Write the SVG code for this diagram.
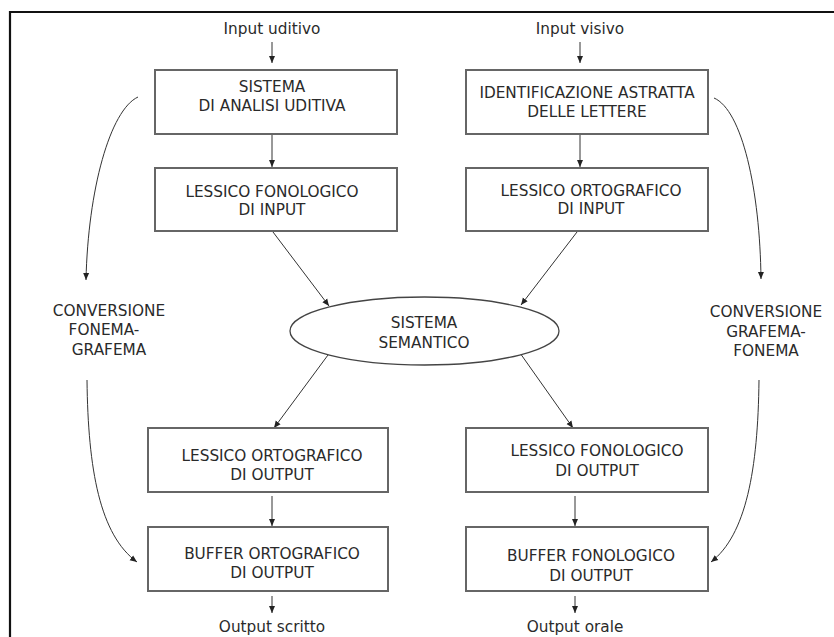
<svg xmlns="http://www.w3.org/2000/svg" width="834" height="637" viewBox="0 0 834 637">
<defs>
<style>
text{font-family:"DejaVu Sans","Verdana",sans-serif;font-size:15.3px;fill:#2a2a2a;text-anchor:middle}
.box{fill:#fff;stroke:#666;stroke-width:2}
.ell{fill:#fff;stroke:#444;stroke-width:1.3}
.c{fill:none;stroke:#333;stroke-width:1}
</style>
<marker id="ah" markerUnits="userSpaceOnUse" markerWidth="8" markerHeight="8" refX="7" refY="3" orient="auto" viewBox="0 0 8 6">
<path d="M0,0 L7,3 L0,6 z" fill="#222"/>
</marker>
</defs>
<rect width="834" height="637" fill="#fff"/>
<path d="M10,640 V12 H840" fill="none" stroke="#111" stroke-width="2.2"/>

<g id="connectors">
<path class="c" d="M272,42 V63" marker-end="url(#ah)"/>
<path class="c" d="M580,42 V63" marker-end="url(#ah)"/>
<path class="c" d="M272,135 V167" marker-end="url(#ah)"/>
<path class="c" d="M580,135 V167" marker-end="url(#ah)"/>
<path class="c" d="M273,232 L329,306" marker-end="url(#ah)"/>
<path class="c" d="M577,232 L521,305" marker-end="url(#ah)"/>
<path class="c" d="M328,355 L274,428" marker-end="url(#ah)"/>
<path class="c" d="M520,353 L573,428" marker-end="url(#ah)"/>
<path class="c" d="M272,496 V526" marker-end="url(#ah)"/>
<path class="c" d="M575,496 V526" marker-end="url(#ah)"/>
<path class="c" d="M272,596 V613" marker-end="url(#ah)"/>
<path class="c" d="M575,596 V613" marker-end="url(#ah)"/>
<path class="c" d="M138,97 C110,110 88,190 86,280" marker-end="url(#ah)"/>
<path class="c" d="M87,380 C88,470 100,535 137,562" marker-end="url(#ah)"/>
<path class="c" d="M714,98 C742,110 760,190 761,279" marker-end="url(#ah)"/>
<path class="c" d="M759,380 C758,470 746,535 711,562" marker-end="url(#ah)"/>
</g>

<g id="input-uditivo"><text x="272" y="34">Input uditivo</text></g>
<g id="input-visivo"><text x="580" y="34">Input visivo</text></g>

<g id="sistema-analisi-uditiva">
<rect class="box" x="155" y="70" width="242" height="64"/>
<text x="272" y="92">SISTEMA</text>
<text x="272" y="111">DI ANALISI UDITIVA</text>
</g>
<g id="identificazione-lettere">
<rect class="box" x="466" y="70" width="242" height="64"/>
<text x="587" y="98">IDENTIFICAZIONE ASTRATTA</text>
<text x="587" y="117">DELLE LETTERE</text>
</g>
<g id="lessico-fonologico-input">
<rect class="box" x="155" y="168" width="242" height="63"/>
<text x="272" y="197">LESSICO FONOLOGICO</text>
<text x="272" y="215">DI INPUT</text>
</g>
<g id="lessico-ortografico-input">
<rect class="box" x="466" y="168" width="242" height="63"/>
<text x="591" y="196">LESSICO ORTOGRAFICO</text>
<text x="591" y="214">DI INPUT</text>
</g>

<g id="sistema-semantico">
<ellipse class="ell" cx="424.5" cy="331" rx="134.5" ry="34"/>
<text x="424" y="328">SISTEMA</text>
<text x="424" y="348">SEMANTICO</text>
</g>

<g id="conversione-fonema-grafema">
<text x="109" y="316">CONVERSIONE</text>
<text x="104" y="335">FONEMA-</text>
<text x="109" y="355">GRAFEMA</text>
</g>
<g id="conversione-grafema-fonema">
<text x="766" y="317">CONVERSIONE</text>
<text x="766" y="337">GRAFEMA-</text>
<text x="766" y="356">FONEMA</text>
</g>

<g id="lessico-ortografico-output">
<rect class="box" x="148" y="428" width="240" height="64"/>
<text x="272" y="461">LESSICO ORTOGRAFICO</text>
<text x="272" y="480">DI OUTPUT</text>
</g>
<g id="lessico-fonologico-output">
<rect class="box" x="466" y="428" width="242" height="64"/>
<text x="597" y="456">LESSICO FONOLOGICO</text>
<text x="597" y="476">DI OUTPUT</text>
</g>
<g id="buffer-ortografico-output">
<rect class="box" x="148" y="527" width="240" height="64"/>
<text x="272" y="559">BUFFER ORTOGRAFICO</text>
<text x="272" y="578">DI OUTPUT</text>
</g>
<g id="buffer-fonologico-output">
<rect class="box" x="466" y="527" width="242" height="64"/>
<text x="591" y="561">BUFFER FONOLOGICO</text>
<text x="591" y="581">DI OUTPUT</text>
</g>

<g id="output-scritto"><text x="272" y="632">Output scritto</text></g>
<g id="output-orale"><text x="575" y="632">Output orale</text></g>
</svg>
